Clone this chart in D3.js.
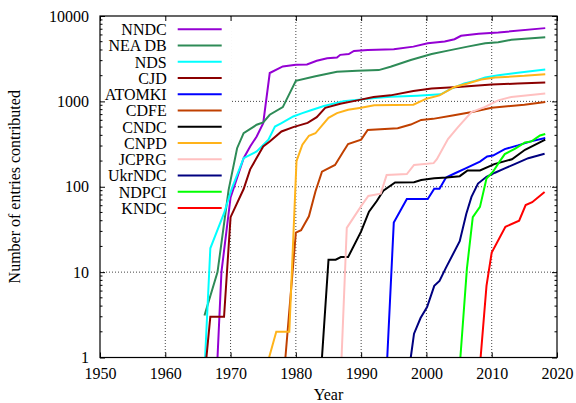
<!DOCTYPE html>
<html>
<head>
<meta charset="utf-8">
<script src="https://cdn.jsdelivr.net/npm/d3@7"></script>
<style>
  body { margin: 0; background: #fff; }
  svg, svg text { font-family: "Liberation Serif", "DejaVu Serif", serif; }
  svg { display: block; }
</style>
</head>
<body>
<div id="chart"></div>
<script>
const width = 576;
const height = 403;

// [year, cumulative entries]
const nndc = [[1968,1],[1968.6,10],[1970,75],[1972,216],[1973,296],[1974,388],[1975,556],[1976,2148],[1978,2567],[1980,2685],[1981.7,2710],[1983.2,2993],[1984.8,3193],[1986.3,3260],[1986.8,3508],[1988.1,3589],[1988.9,3901],[1991,4010],[1995,4075],[1998,4379],[2000.2,4800],[2002.8,5028],[2004.3,5350],[2005.3,5860],[2008,6180],[2011,6410],[2018.2,7210]];
const neadb = [[1966,3.1],[1968,10],[1969.7,92],[1971,283],[1972,425],[1974,532],[1975,566],[1976,697],[1978,857],[1980,1740],[1983,1973],[1986.3,2224],[1989.4,2286],[1992.7,2323],[1994.5,2546],[1997.6,3050],[2000.8,3589],[2003.3,3930],[2006.3,4379],[2009,4800],[2011,4930],[2013,5260],[2018.2,5650]];
const nds = [[1966.1,1],[1966.9,19],[1969,49],[1970.2,96],[1972,216],[1974,259],[1975.8,355],[1976.8,508],[1977.8,556],[1979.6,666],[1981,729],[1982.2,782],[1984.3,881],[1987.3,1007],[1990,1055],[1992.5,1104],[1994.5,1130],[1998.6,1166],[2002.2,1211],[2003.8,1413],[2005.8,1617],[2007.4,1739],[2009,1903],[2011,2028],[2014,2159],[2018.2,2365]];
const cjd = [[1966.3,1],[1966.9,3],[1969,3],[1970,44],[1972,94],[1973,160],[1975,296],[1976,339],[1977.8,444],[1979.6,500],[1981.8,560],[1983.2,653],[1984.5,841],[1986.8,937],[1989.4,1027],[1991.9,1127],[1994.5,1176],[1998,1324],[2000.8,1413],[2004.8,1474],[2010,1574],[2014,1617],[2018.2,1663]];
const atomki = [[1994,1],[1995,38],[1997,72],[2000.2,72],[2001.2,95],[2002,95],[2003,128],[2004.3,143],[2006,164],[2008.2,197],[2009.3,226],[2010.2,232],[2012,276],[2014,305],[2016,340],[2018.2,372]];
const cdfe = [[1978.4,1],[1980,29],[1980.8,31],[1982,45],[1983,88],[1984,150],[1986,180],[1987.3,260],[1988,317],[1990,356],[1991,463],[1995.6,484],[1997.6,535],[1999.2,607],[2001,624],[2004,684],[2007,750],[2010,841],[2015,913],[2018.2,982]];
const cndc = [[1984,1],[1985,14],[1986.1,14],[1986.9,15],[1988,15],[1990,30],[1991.2,51],[1992.4,68],[1993.4,90],[1995.2,112],[1998.1,113],[1999.2,120],[2001.2,126],[2003.1,128],[2005.1,133],[2006.3,155],[2008.2,155],[2010.4,184],[2013.1,210],[2015.1,271],[2018.2,356]];
const cnpd = [[1975.9,1],[1977,2],[1979,2],[1980.1,200],[1981,311],[1982,396],[1983,423],[1985,643],[1986.3,728],[1988,798],[1990,841],[1992,898],[1998,913],[2000,1076],[2002,1176],[2004.3,1474],[2006.3,1617],[2008.4,1803],[2010.5,1903],[2015,1991],[2018.2,2083]];
const jcprg = [[1987,1],[1987.8,33],[1990.1,61],[1991.1,78],[1993,83],[1993.9,137],[1997,141],[1998.1,180],[2001.1,189],[2001.6,210],[2003.3,362],[2004.8,497],[2006.9,750],[2008.9,857],[2011,1027],[2013,1127],[2018.2,1233]];
const ukrndc = [[1997.6,1],[1998.1,1.9],[1999.1,2.9],[2000.1,3.9],[2001.2,6.9],[2002,7.9],[2003,11.3],[2005.1,23],[2006.1,48],[2006.9,76],[2007.9,109],[2009.2,131],[2010.5,146],[2012,164],[2013.6,185],[2015.6,216],[2018.1,243]];
const ndpci = [[2005.2,1],[2006.2,11],[2007.1,44],[2008.2,58],[2009.2,125],[2010.2,150],[2011.2,197],[2012,241],[2013.6,280],[2015.1,330],[2016.1,340],[2017.4,398],[2018.2,415]];
const kndc = [[2008.3,1],[2009.2,6.9],[2010,17],[2012.1,34],[2014.2,40],[2015.2,61],[2016.2,66],[2018.1,87]];

const names = ["NNDC", "NEA DB", "NDS", "CJD", "ATOMKI", "CDFE", "CNDC", "CNPD", "JCPRG", "UkrNDC", "NDPCI", "KNDC"];
const series = [nndc, neadb, nds, cjd, atomki, cdfe, cndc, cnpd, jcprg, ukrndc, ndpci, kndc];
const colors = ["#9400d3", "#2e8b57", "#00ffff", "#8b0000", "#0000ff", "#c04000", "#000000", "#ffb31a", "#ffc0c0", "#000080", "#00ff00", "#ff0000"];

const xTicks = [1950, 1960, 1970, 1980, 1990, 2000, 2010, 2020];
const yTicks = [1, 10, 100, 1000, 10000];

const pLeft = 100, pRight = 557, pTop = 16, pBottom = 357.5;

const svg = d3.select("#chart").append("svg")
    .attr("width", width)
    .attr("height", height);

const x = d3.scaleLinear().domain([1950, 2020]).range([pLeft, pRight]);
const y = d3.scaleLog().domain([1, 10000]).range([pBottom, pTop]);

// grid (dotted)
const grid = svg.append("g").attr("class", "grid")
    .attr("stroke", "#444").attr("stroke-width", 1).attr("stroke-dasharray", "1,2");
grid.selectAll("line.v").data(xTicks.slice(1, -1)).join("line")
    .attr("class", "v")
    .attr("x1", d => x(d)).attr("x2", d => x(d))
    .attr("y1", pTop).attr("y2", pBottom);
grid.selectAll("line.h").data(yTicks.slice(1, -1)).join("line")
    .attr("class", "h")
    .attr("x1", pLeft).attr("x2", pRight)
    .attr("y1", d => y(d)).attr("y2", d => y(d));

// opaque key box hides the grid behind the legend
svg.append("rect")
    .attr("x", pLeft + 0.5).attr("y", pTop + 0.5)
    .attr("width", 131).attr("height", 200)
    .attr("fill", "#fff");

// axes, ticks pointing inward
const fmt = d3.format("d");
svg.append("g")
    .attr("class", "axis")
    .attr("transform", "translate(0," + pBottom + ")")
    .call(d3.axisBottom(x).tickValues(xTicks).tickSize(-5).tickPadding(10).tickFormat(fmt));
svg.append("g")
    .attr("class", "axis")
    .attr("transform", "translate(0," + pTop + ")")
    .call(d3.axisTop(x).tickValues(xTicks).tickSize(-5).tickFormat(""));
svg.append("g")
    .attr("class", "axis")
    .attr("transform", "translate(" + pLeft + ",0)")
    .call(d3.axisLeft(y).tickValues(yTicks).tickSize(-5).tickPadding(11).tickFormat(fmt));
svg.append("g")
    .attr("class", "axis")
    .attr("transform", "translate(" + pRight + ",0)")
    .call(d3.axisRight(y).tickValues(yTicks).tickSize(-5).tickFormat(""));

svg.selectAll(".axis")
    .attr("font-family", "Liberation Serif")
    .attr("font-size", 16);
svg.selectAll(".domain").remove();
svg.selectAll(".tick text")
    .attr("font-family", "Liberation Serif")
    .attr("fill", "#000");
svg.selectAll(".tick line").attr("stroke", "#000");

// minor log ticks on both sides
const minor = y.ticks().filter(d => !yTicks.includes(d));
[[pLeft, 1], [pRight, -1]].forEach(([px, dir]) => {
  svg.append("g").selectAll("line").data(minor).join("line")
    .attr("x1", px).attr("x2", px + dir * 2.5)
    .attr("y1", d => y(d)).attr("y2", d => y(d))
    .attr("stroke", "#000");
});

// lines
svg.append("clipPath").attr("id", "plot-clip")
  .append("rect")
    .attr("x", pLeft).attr("y", pTop)
    .attr("width", pRight - pLeft).attr("height", pBottom - pTop);

const line = d3.line().x(d => x(d[0])).y(d => y(d[1]));

svg.append("g").attr("clip-path", "url(#plot-clip)")
  .selectAll("path").data(series).join("path")
    .attr("d", line)
    .attr("fill", "none")
    .attr("stroke", (d, i) => colors[i])
    .attr("stroke-width", 2);

// frame
svg.append("rect")
    .attr("x", pLeft).attr("y", pTop)
    .attr("width", pRight - pLeft).attr("height", pBottom - pTop)
    .attr("fill", "none").attr("stroke", "#000").attr("stroke-width", 1.2);

// legend
const key = svg.append("g").attr("class", "key");
const rows = key.selectAll("g").data(names).join("g")
    .attr("transform", (d, i) => "translate(0," + (29.3 + i * 16.25) + ")");
rows.append("text")
    .attr("x", 166.7).attr("dy", "0.36em")
    .attr("text-anchor", "end")
    .attr("font-size", 16)
    .text(d => d);
rows.append("line")
    .attr("x1", 177.7).attr("x2", 221.7)
    .attr("stroke", (d, i) => colors[i])
    .attr("stroke-width", 2);

// axis titles
svg.append("text")
    .attr("x", (pLeft + pRight) / 2).attr("y", 400)
    .attr("text-anchor", "middle")
    .attr("font-size", 16)
    .text("Year");
svg.append("text")
    .attr("transform", "translate(20," + (pTop + pBottom) / 2 + ") rotate(-90)")
    .attr("text-anchor", "middle")
    .attr("font-size", 16)
    .text("Number of entries contributed");
</script>
</body>
</html>
